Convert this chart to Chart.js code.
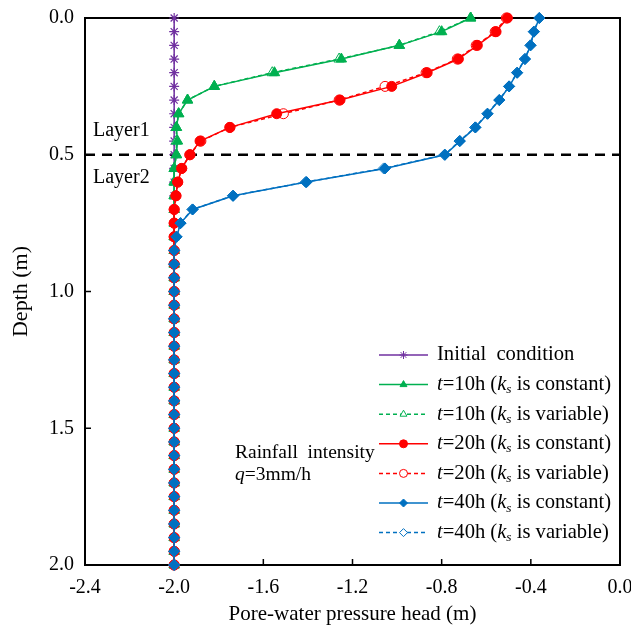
<!DOCTYPE html>
<html><head><meta charset="utf-8">
<script src="https://cdn.jsdelivr.net/npm/chart.js@4.4.1/dist/chart.umd.min.js"></script>
<style>html,body{margin:0;padding:0;background:#fff;}#wrap{width:631px;height:634px;}</style>
</head><body><div id="wrap"><canvas id="c" width="631" height="634"></canvas></div>
<script>
// ---- data ----
const depths = [0.00,0.05,0.10,0.15,0.20,0.25,0.30,0.35,0.40,0.45,0.50,0.55,0.60,0.65,0.70,0.75,0.80,0.85,0.90,0.95,1.00,1.05,1.10,1.15,1.20,1.25,1.30,1.35,1.40,1.45,1.50,1.55,1.60,1.65,1.70,1.75,1.80,1.85,1.90,1.95,2.00];
const initialHead = [-2.00,-2.00,-2.00,-2.00,-2.00,-2.00,-2.00,-2.00,-2.00,-2.00,-2.00,-2.00,-2.00,-2.00,-2.00,-2.00,-2.00,-2.00,-2.00,-2.00,-2.00,-2.00,-2.00,-2.00,-2.00,-2.00,-2.00,-2.00,-2.00,-2.00,-2.00,-2.00,-2.00,-2.00,-2.00,-2.00,-2.00,-2.00,-2.00,-2.00,-2.00];
const head10Const = [-0.67,-0.80,-0.99,-1.25,-1.55,-1.82,-1.94,-1.98,-1.99,-1.985,-1.99,-2.00,-2.00,-2.00,-2.00,-2.00,-2.00,-2.00,-2.00,-2.00,-2.00,-2.00,-2.00,-2.00,-2.00,-2.00,-2.00,-2.00,-2.00,-2.00,-2.00,-2.00,-2.00,-2.00,-2.00,-2.00,-2.00,-2.00,-2.00,-2.00,-2.00];
const head10Var = [-0.67,-0.81,-0.99,-1.26,-1.56,-1.82,-1.94,-1.98,-1.99,-1.99,-1.99,-2.00,-2.00,-2.00,-2.00,-2.00,-2.00,-2.00,-2.00,-2.00,-2.00,-2.00,-2.00,-2.00,-2.00,-2.00,-2.00,-2.00,-2.00,-2.00,-2.00,-2.00,-2.00,-2.00,-2.00,-2.00,-2.00,-2.00,-2.00,-2.00,-2.00];
const head20Const = [-0.505,-0.556,-0.64,-0.725,-0.865,-1.024,-1.256,-1.54,-1.75,-1.884,-1.929,-1.966,-1.984,-1.992,-2.00,-2.00,-2.00,-2.00,-2.00,-2.00,-2.00,-2.00,-2.00,-2.00,-2.00,-2.00,-2.00,-2.00,-2.00,-2.00,-2.00,-2.00,-2.00,-2.00,-2.00,-2.00,-2.00,-2.00,-2.00,-2.00,-2.00];
const head20Var = [-0.51,-0.56,-0.645,-0.73,-0.87,-1.054,-1.26,-1.51,-1.75,-1.88,-1.93,-1.966,-1.984,-1.992,-2.00,-2.00,-2.00,-2.00,-2.00,-2.00,-2.00,-2.00,-2.00,-2.00,-2.00,-2.00,-2.00,-2.00,-2.00,-2.00,-2.00,-2.00,-2.00,-2.00,-2.00,-2.00,-2.00,-2.00,-2.00,-2.00,-2.00];
const head40Const = [-0.362,-0.386,-0.401,-0.426,-0.461,-0.497,-0.541,-0.594,-0.648,-0.718,-0.785,-1.054,-1.406,-1.735,-1.917,-1.971,-1.989,-2.00,-2.00,-2.00,-2.00,-2.00,-2.00,-2.00,-2.00,-2.00,-2.00,-2.00,-2.00,-2.00,-2.00,-2.00,-2.00,-2.00,-2.00,-2.00,-2.00,-2.00,-2.00,-2.00,-2.00];
const head40Var = [-0.362,-0.387,-0.402,-0.427,-0.462,-0.498,-0.542,-0.595,-0.650,-0.720,-0.787,-1.060,-1.410,-1.737,-1.918,-1.972,-1.990,-2.00,-2.00,-2.00,-2.00,-2.00,-2.00,-2.00,-2.00,-2.00,-2.00,-2.00,-2.00,-2.00,-2.00,-2.00,-2.00,-2.00,-2.00,-2.00,-2.00,-2.00,-2.00,-2.00,-2.00];
const boundaryHead = [-2.4, 0.0];
const boundaryDepth = [0.5, 0.5];
const xTickValues = [-2.4,-2.0,-1.6,-1.2,-0.8,-0.4,0.0];
const yTickValues = [0.0,0.5,1.0,1.5,2.0];
const seriesNames = ['Initial condition','t=10h (ks is constant)','t=10h (ks is variable)','t=20h (ks is constant)','t=20h (ks is variable)','t=40h (ks is constant)','t=40h (ks is variable)'];

const FONT = "'Liberation Serif','Times New Roman',serif";
const PURPLE='#7030A0', GREEN='#00B050', RED='#FF0000', BLUE='#0070C0';

function pts(heads, ds){ return heads.map((h,i)=>({x:h, y:ds[i]})); }

function series(label, heads, color, style, radius, dashed, order){
  return {
    label, data: pts(heads, depths), showLine:true,
    borderColor:color, borderWidth:1.5, borderDash: dashed?[4,3]:[],
    pointStyle:style, pointRadius:radius, pointBorderWidth: style==='star'?1.2:1,
    pointBackgroundColor: dashed ? '#ffffff' : color, pointBorderColor: color,
    backgroundColor: dashed ? '#ffffff' : color,
    clip:false, order, tension:0
  };
}

const datasets = [
  series(seriesNames[0], initialHead, PURPLE, 'star', 5, false, 7),
  series(seriesNames[1], head10Const, GREEN, 'triangle', 6, false, 5),
  series(seriesNames[2], head10Var, GREEN, 'triangle', 6, true, 6),
  series(seriesNames[3], head20Const, RED, 'circle', 5, false, 3),
  series(seriesNames[4], head20Var, RED, 'circle', 5, true, 4),
  series(seriesNames[5], head40Const, BLUE, 'rectRot', 5.5, false, 1),
  series(seriesNames[6], head40Var, BLUE, 'rectRot', 5.5, true, 2),
  { label:'boundary', data: pts(boundaryHead, boundaryDepth), showLine:true,
    borderColor:'#000', borderWidth:2.5, borderDash:[10,7], pointRadius:0, order:10, clip:false }
];

const legendRows = [
  [{t:'Initial  condition'}],
  [{t:'t',i:1},{t:'=10h ('},{t:'k',i:1},{t:'s',i:1,sub:1},{t:' is constant)'}],
  [{t:'t',i:1},{t:'=10h ('},{t:'k',i:1},{t:'s',i:1,sub:1},{t:' is variable)'}],
  [{t:'t',i:1},{t:'=20h ('},{t:'k',i:1},{t:'s',i:1,sub:1},{t:' is constant)'}],
  [{t:'t',i:1},{t:'=20h ('},{t:'k',i:1},{t:'s',i:1,sub:1},{t:' is variable)'}],
  [{t:'t',i:1},{t:'=40h ('},{t:'k',i:1},{t:'s',i:1,sub:1},{t:' is constant)'}],
  [{t:'t',i:1},{t:'=40h ('},{t:'k',i:1},{t:'s',i:1,sub:1},{t:' is variable)'}]
];

function drawSegments(ctx, segs, x, y, size){
  ctx.textBaseline='middle'; ctx.textAlign='left'; ctx.fillStyle='#000';
  for(const s of segs){
    const sz = s.sub ? size*0.65 : size;
    ctx.font = (s.i?'italic ':'') + sz + 'px ' + FONT;
    ctx.fillText(s.t, x, s.sub ? y+5 : y);
    x += ctx.measureText(s.t).width;
  }
}

const framePlugin = {
  id:'frame',
  beforeDatasetsDraw(chart){
    const {ctx, chartArea:a, scales} = chart;
    ctx.save();
    ctx.strokeStyle='#000'; ctx.lineWidth=2; ctx.setLineDash([]);
    ctx.strokeRect(a.left, a.top, a.right-a.left, a.bottom-a.top);
    ctx.lineWidth=1.5;
    ctx.beginPath();
    for(const v of xTickValues){ const px=scales.x.getPixelForValue(v); ctx.moveTo(px,a.bottom); ctx.lineTo(px,a.bottom-6); }
    for(const v of yTickValues){ const py=scales.y.getPixelForValue(v); ctx.moveTo(a.left,py); ctx.lineTo(a.left+6,py); }
    ctx.stroke();
    ctx.restore();
  },
  afterDraw(chart){
    const {ctx} = chart;
    ctx.save();
    // annotations
    drawSegments(ctx,[{t:'Layer1'}],93,131,20);
    drawSegments(ctx,[{t:'Layer2'}],93,178,20);
    drawSegments(ctx,[{t:'Rainfall  intensity'}],235,453,19.5);
    drawSegments(ctx,[{t:'q',i:1},{t:'=3mm/h'}],235,475,19.5);
    // legend
    const y0=355, dy=29.6, lx1=379, lx2=428, tx=437;
    for(let k=0;k<7;k++){
      const ds = chart.data.datasets[k];
      const y = y0 + k*dy;
      ctx.strokeStyle = ds.borderColor; ctx.lineWidth=1.5;
      ctx.setLineDash(ds.borderDash||[]);
      ctx.beginPath(); ctx.moveTo(lx1,y); ctx.lineTo(lx2,y); ctx.stroke();
      ctx.setLineDash([]);
      ctx.fillStyle = ds.pointBackgroundColor; ctx.strokeStyle = ds.pointBorderColor; ctx.lineWidth=1;
      Chart.helpers.drawPoint(ctx, {pointStyle:ds.pointStyle, radius:4, borderWidth:1, rotation:0}, (lx1+lx2)/2, y);
      drawSegments(ctx, legendRows[k], tx, y, 20.6);
    }
    ctx.restore();
  }
};

new Chart(document.getElementById('c'), {
  type:'scatter',
  data:{datasets},
  options:{
    responsive:false, animation:false, devicePixelRatio:1,
    layout:{padding:{top:18,right:11,left:0,bottom:0}},
    plugins:{legend:{display:false}, tooltip:{enabled:false}},
    scales:{
      x:{type:'linear', min:-2.4, max:0,
        grid:{display:false, drawTicks:false}, border:{display:false},
        ticks:{font:{family:FONT,size:20}, color:'#000', padding:11, callback:v=>Number(v).toFixed(1)},
        afterBuildTicks:s=>{ s.ticks = xTickValues.map(v=>({value:v})); },
        afterFit:s=>{ s.height=69; s.paddingLeft=0; s.paddingRight=0; },
        title:{display:true, text:'Pore-water pressure head (m)', font:{family:FONT,size:21}, color:'#000', padding:{top:0,bottom:7}}
      },
      y:{type:'linear', min:0, max:2, reverse:true,
        grid:{display:false, drawTicks:false}, border:{display:false},
        ticks:{font:{family:FONT,size:20}, color:'#000', padding:11, callback:v=>Number(v).toFixed(1)},
        afterBuildTicks:s=>{ s.ticks = yTickValues.map(v=>({value:v})); },
        afterFit:s=>{ s.width=85; s.paddingTop=0; s.paddingBottom=0; },
        title:{display:true, text:'Depth (m)', font:{family:FONT,size:22}, color:'#000', padding:{top:8,bottom:0}}
      }
    }
  },
  plugins:[framePlugin]
});
</script></body></html>
